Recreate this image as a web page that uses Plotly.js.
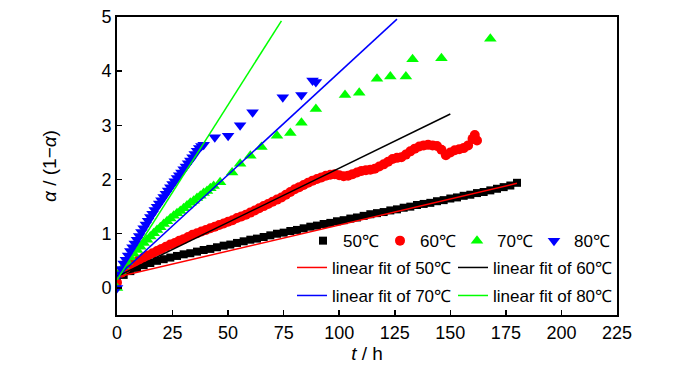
<!DOCTYPE html>
<html>
<head>
<meta charset="utf-8">
<script src="https://cdn.plot.ly/plotly-3.0.1.min.js"></script>
<style>html,body{margin:0;padding:0;background:#fff;}#chart{width:700px;height:374px;}</style>
</head>
<body>
<div id="chart"></div>
<script>
// ---- data ----
var t50 = [0,3,6,9,12,15,18,21,24,27,30,33,36,39,42,45,48,51,54,57,60,63,66,69,72,75,78,81,84,87,90,93,96,99,102,105,108,111,114,117,120,123,126,129,132,135,138,141,144,147,150,153,156,159,162,165,168,171,174,177,180];
var y50 = [0.10,0.24,0.31,0.37,0.42,0.46,0.50,0.53,0.56,0.59,0.62,0.64,0.67,0.70,0.72,0.75,0.78,0.80,0.83,0.86,0.89,0.91,0.94,0.97,1.00,1.02,1.05,1.07,1.10,1.13,1.15,1.18,1.20,1.23,1.25,1.28,1.30,1.33,1.36,1.38,1.40,1.43,1.45,1.48,1.50,1.53,1.55,1.57,1.60,1.62,1.65,1.67,1.70,1.72,1.75,1.77,1.80,1.83,1.86,1.89,1.94];

var t60 = [0,2,4,6,8,10,12,14,16,18,20,22,24,26,28,30,32,34,36,38,40,42,44,46,48,50,52,54,56,58,60,62,64,66,68,70,72,74,76,78,80,82,84,86,88,90,92,94,96,98,100,102,104,106,108,110,112,114,116,118,120,122,124,126,128,130,132,134,136,138,140,142,144,146,148,150,152,154,156,158,160,161,162];
var y60 = [0.10,0.28,0.36,0.42,0.47,0.52,0.56,0.60,0.64,0.68,0.72,0.76,0.80,0.83,0.87,0.90,0.94,0.98,1.01,1.04,1.07,1.10,1.13,1.16,1.19,1.22,1.25,1.29,1.32,1.35,1.39,1.43,1.47,1.51,1.55,1.59,1.63,1.67,1.72,1.77,1.82,1.86,1.90,1.94,1.98,2.01,2.04,2.07,2.09,2.10,2.08,2.06,2.07,2.10,2.13,2.16,2.17,2.18,2.20,2.24,2.28,2.33,2.38,2.40,2.41,2.46,2.52,2.57,2.61,2.63,2.64,2.63,2.62,2.55,2.45,2.50,2.54,2.56,2.58,2.63,2.75,2.82,2.72];

var t70 = [0,1.5,3,4.5,6,7.5,9,10.5,12,13.5,15,16.5,18,19.5,21,22.5,24,25.5,27,28.5,30,31.5,33,34.5,36,37.5,39,40.5,42,43.5,46.4,51.8,55.4,60,65,72,78,83,89.5,102.6,109,117,123,130,133,146,168];
var y70 = [0.00,0.30,0.40,0.48,0.56,0.63,0.70,0.76,0.83,0.89,0.95,1.01,1.07,1.12,1.18,1.23,1.28,1.33,1.38,1.42,1.47,1.52,1.57,1.61,1.66,1.70,1.75,1.79,1.84,1.88,1.95,2.13,2.29,2.44,2.60,2.81,2.86,3.05,3.30,3.56,3.60,3.86,3.90,3.90,4.22,4.24,4.60];

var t80 = [0,1,2,3,4,5,6,7,8,9,10,11,12,13,14,15,16,17,18,19,20,21,22,23,24,25,26,27,28,29,30,31,32,33,34,35,36,37,38,39,44,50,55.4,61,74.6,83,88,89.5];
var y80 = [0.00,0.25,0.35,0.45,0.52,0.60,0.68,0.75,0.82,0.89,0.96,1.03,1.10,1.17,1.24,1.31,1.37,1.44,1.50,1.56,1.62,1.68,1.74,1.80,1.86,1.92,1.97,2.03,2.08,2.13,2.19,2.24,2.30,2.35,2.41,2.47,2.53,2.58,2.62,2.64,2.78,2.81,3.00,3.24,3.52,3.56,3.83,3.80];

// linear fit end points
var fit50X = [0,180], fit50Y = [0.20,1.93];
var fit60X = [0,150], fit60Y = [0.21,3.21];
var fit70X = [0,126], fit70Y = [0.20,4.96];
var fit80X = [0,74],  fit80Y = [0.15,4.93];

var xTicks = [0,25,50,75,100,125,150,175,200,225];
var yTicks = [0,1,2,3,4,5];

// ---- styling ----
var FONT = 'Liberation Sans, Arial, sans-serif';

var traces = [
  {x:t50, y:y50, name:'50\u2103', mode:'markers', type:'scatter', legend:'legend',
   marker:{symbol:'square', size:8, color:'#000000'}},
  {x:t60, y:y60, name:'60\u2103', mode:'markers', type:'scatter', legend:'legend',
   marker:{symbol:'circle', size:10, color:'#ff0000'}},
  {x:t70, y:y70, name:'70\u2103', mode:'markers', type:'scatter', legend:'legend',
   marker:{symbol:'triangle-up', size:11, color:'#00ff00'}},
  {x:t80, y:y80, name:'80\u2103', mode:'markers', type:'scatter', legend:'legend',
   marker:{symbol:'triangle-down', size:11, color:'#0000ff'}},
  {x:fit50X, y:fit50Y, name:'linear fit of 50\u2103', mode:'lines', type:'scatter', legend:'legend2',
   line:{color:'#ff0000', width:1.5}},
  {x:fit60X, y:fit60Y, name:'linear fit of 60\u2103', mode:'lines', type:'scatter', legend:'legend2',
   line:{color:'#000000', width:1.5}},
  {x:fit70X, y:fit70Y, name:'linear fit of 70\u2103', mode:'lines', type:'scatter', legend:'legend3',
   line:{color:'#0000ff', width:1.5}},
  {x:fit80X, y:fit80Y, name:'linear fit of 80\u2103', mode:'lines', type:'scatter', legend:'legend3',
   line:{color:'#00ff00', width:1.5}}
];

var legendBase = {orientation:'h', xanchor:'left', yanchor:'middle', bgcolor:'rgba(0,0,0,0)',
  borderwidth:0, font:{family:FONT, size:17, color:'#000'}, entrywidthmode:'pixels', tracegroupgap:0};

var layout = {
  width:700, height:374,
  margin:{l:117, r:83, t:17, b:59},
  paper_bgcolor:'#ffffff', plot_bgcolor:'#ffffff',
  font:{family:FONT, size:18, color:'#000'},
  showlegend:true,
  xaxis:{range:[0,225], tickvals:xTicks, ticktext:xTicks.map(String), ticks:'inside', ticklen:5, tickwidth:1.5,
    tickcolor:'#000', showline:true, linecolor:'#000', linewidth:2, mirror:true, showgrid:false, zeroline:false,
    tickfont:{family:FONT, size:18},
    title:{text:'<i>t</i> / h', standoff:4, font:{family:FONT, size:19}}},
  yaxis:{range:[-0.5,5], tickvals:yTicks, ticktext:yTicks.map(String), ticks:'inside', ticklen:5, tickwidth:1.5,
    tickcolor:'#000', showline:true, linecolor:'#000', linewidth:2, mirror:true, showgrid:false, zeroline:false,
    tickfont:{family:FONT, size:18},
    title:{text:'<i>\u03b1</i> / (1\u2212<i>\u03b1</i>)', standoff:40, font:{family:FONT, size:19}}},
  legend:Object.assign({}, legendBase, {x:0.372, y:0.248, entrywidth:32}),
  legend2:Object.assign({}, legendBase, {x:0.35, y:0.158, entrywidth:116}),
  legend3:Object.assign({}, legendBase, {x:0.35, y:0.064, entrywidth:116})
};

Plotly.newPlot('chart', traces, layout, {displayModeBar:false, staticPlot:true});
</script>
</body>
</html>
